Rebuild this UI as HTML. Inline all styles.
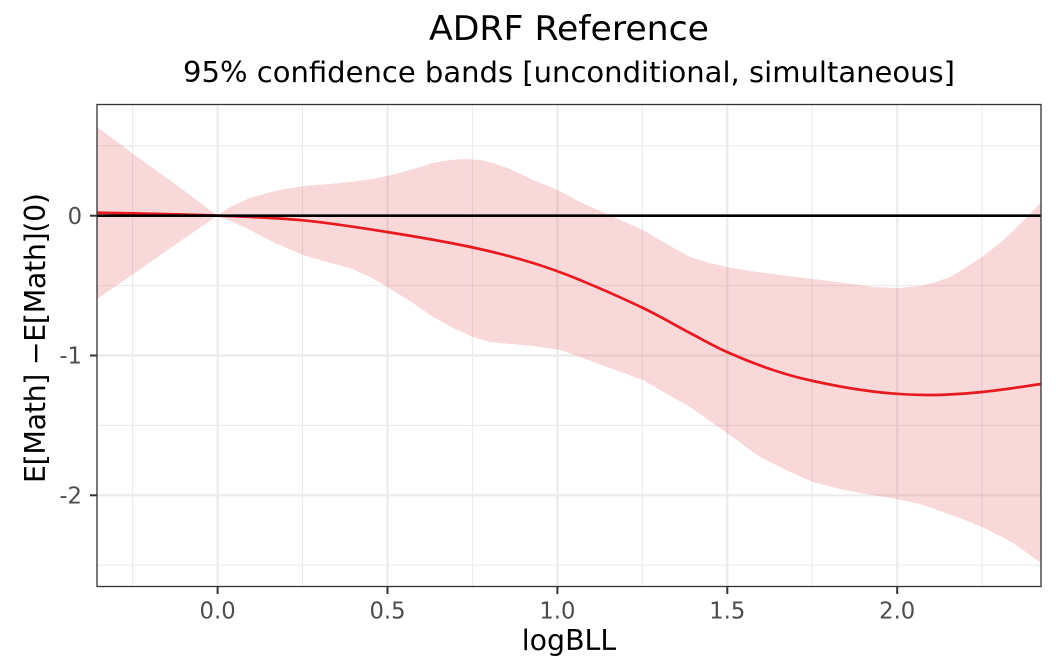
<!DOCTYPE html>
<html>
<head>
<meta charset="utf-8">
<style>
  html,body{margin:0;padding:0;background:#fff;}
  svg{display:block;}
  text{font-family:"DejaVu Sans","Liberation Sans",sans-serif;}
</style>
</head>
<body>
<svg width="1056" height="672" viewBox="0 0 1056 672" xmlns="http://www.w3.org/2000/svg">
  <rect x="0" y="0" width="1056" height="672" fill="#ffffff"/>

  <!-- panel background -->
  <rect x="97" y="104.5" width="944" height="482" fill="#ffffff"/>

  <!-- minor gridlines -->
  <g stroke="#EBEBEB" stroke-width="1.1" fill="none">
    <line x1="132.6" y1="104.5" x2="132.6" y2="586.5"/>
    <line x1="302.5" y1="104.5" x2="302.5" y2="586.5"/>
    <line x1="472.4" y1="104.5" x2="472.4" y2="586.5"/>
    <line x1="642.3" y1="104.5" x2="642.3" y2="586.5"/>
    <line x1="812.2" y1="104.5" x2="812.2" y2="586.5"/>
    <line x1="982.1" y1="104.5" x2="982.1" y2="586.5"/>
    <line x1="97" y1="145.8" x2="1041" y2="145.8"/>
    <line x1="97" y1="285.6" x2="1041" y2="285.6"/>
    <line x1="97" y1="425.4" x2="1041" y2="425.4"/>
    <line x1="97" y1="565.2" x2="1041" y2="565.2"/>
  </g>
  <!-- major gridlines -->
  <g stroke="#EBEBEB" stroke-width="2.2" fill="none">
    <line x1="217.6" y1="104.5" x2="217.6" y2="586.5"/>
    <line x1="387.5" y1="104.5" x2="387.5" y2="586.5"/>
    <line x1="557.4" y1="104.5" x2="557.4" y2="586.5"/>
    <line x1="727.3" y1="104.5" x2="727.3" y2="586.5"/>
    <line x1="897.2" y1="104.5" x2="897.2" y2="586.5"/>
    <line x1="97" y1="215.7" x2="1041" y2="215.7"/>
    <line x1="97" y1="355.5" x2="1041" y2="355.5"/>
    <line x1="97" y1="495.3" x2="1041" y2="495.3"/>
  </g>

  <!-- confidence ribbon -->
  <polygon fill="rgb(224,62,72)" fill-opacity="0.2" stroke="none" points="
    97,127 132,153 175,184 217.5,215.5
    230,207 250,198 267,193 285,189 303,186 330,184 350,182 370,179.5 387,176 410,170 433,163 450,160 465,159 480,160 493,163 510,169 533,180 560,191 580,202 607,214 625,222 643,230 665,243 690,257 710,263 727,267 750,271 780,275 813,279 845,283 873,287 897,288 920,286 933,283 950,277 965,268 982,257 1000,243 1017,227 1030,214 1041,202
    1041,563 1030,555 1013,543 1000,536 982,527 965,520 943,512 920,504 897,499 860,493 840,489 813,482 790,472 760,457 727,433 690,407 660,390 643,380 607,367 580,357 560,350 533,346 500,343 490,342 473,337 455,329 433,317 410,301 387,287 370,277 350,268 330,263 303,255 275,243 250,230 235,223 217.5,215.5
    175,245 132,275 97,299
  "/>

  <!-- estimate line (smoothed) -->
  <path fill="none" stroke="#E8191F" stroke-width="2.7" stroke-linejoin="round"
    d="M97,212.6
       C117.1,213.1 183.2,214.3 217.5,215.6
       C251.8,216.9 274.8,217.6 303,220.3
       C331.3,223.0 358.7,227.5 387,232
       C415.3,236.5 448.7,242.3 473,247.5
       C497.3,252.7 515.2,257.6 533,263
       C550.8,268.4 561.7,272.5 580,280
       C598.3,287.5 624.7,299.2 643,308
       C661.3,316.8 676,325.7 690,333
       C704,340.3 713.2,345.8 727,352
       C740.8,358.2 758.7,365.2 773,370
       C787.3,374.8 796.3,377.4 813,381
       C829.7,384.6 854,389.2 873,391.5
       C892,393.8 908.8,394.9 927,395
       C945.2,395.1 963,393.8 982,392
       C1001,390.2 1031.2,385.3 1041,384"/>

  <!-- reference line at 0 -->
  <line x1="97" y1="215.7" x2="1041" y2="215.7" stroke="#000000" stroke-width="2.6"/>

  <!-- panel border -->
  <rect x="97" y="104.5" width="944" height="482" fill="none" stroke="#333333" stroke-width="1.3"/>

  <!-- axis ticks -->
  <g stroke="#333333" stroke-width="2">
    <line x1="90" y1="215.7" x2="97" y2="215.7"/>
    <line x1="90" y1="355.5" x2="97" y2="355.5"/>
    <line x1="90" y1="495.3" x2="97" y2="495.3"/>
    <line x1="217.6" y1="586.5" x2="217.6" y2="594"/>
    <line x1="387.5" y1="586.5" x2="387.5" y2="594"/>
    <line x1="557.4" y1="586.5" x2="557.4" y2="594"/>
    <line x1="727.3" y1="586.5" x2="727.3" y2="594"/>
    <line x1="897.2" y1="586.5" x2="897.2" y2="594"/>
  </g>

  <!-- y tick labels -->
  <g font-size="22.7" fill="#4D4D4D" text-anchor="end">
    <text x="82" y="223.8">0</text>
    <text x="82" y="363.6">-1</text>
    <text x="82" y="503.4">-2</text>
  </g>

  <!-- x tick labels -->
  <g font-size="22.7" fill="#4D4D4D" text-anchor="middle">
    <text x="217.6" y="618.5">0.0</text>
    <text x="387.5" y="618.5">0.5</text>
    <text x="557.4" y="618.5">1.0</text>
    <text x="727.3" y="618.5">1.5</text>
    <text x="897.2" y="618.5">2.0</text>
  </g>

  <!-- axis titles -->
  <text x="569" y="650" font-size="28.4" fill="#000" text-anchor="middle">logBLL</text>
  <text transform="translate(45,338) rotate(-90)" x="0" y="0" font-size="28.4" fill="#000" text-anchor="middle" textLength="290" lengthAdjust="spacing">E[Math]  −E[Math](0)</text>

  <!-- titles -->
  <text x="569" y="40" font-size="34" fill="#000" text-anchor="middle" textLength="280" lengthAdjust="spacingAndGlyphs">ADRF Reference</text>
  <text x="569" y="82" font-size="28.4" fill="#000" text-anchor="middle" textLength="772" lengthAdjust="spacingAndGlyphs">95% confidence bands [unconditional, simultaneous]</text>
</svg>
</body>
</html>
